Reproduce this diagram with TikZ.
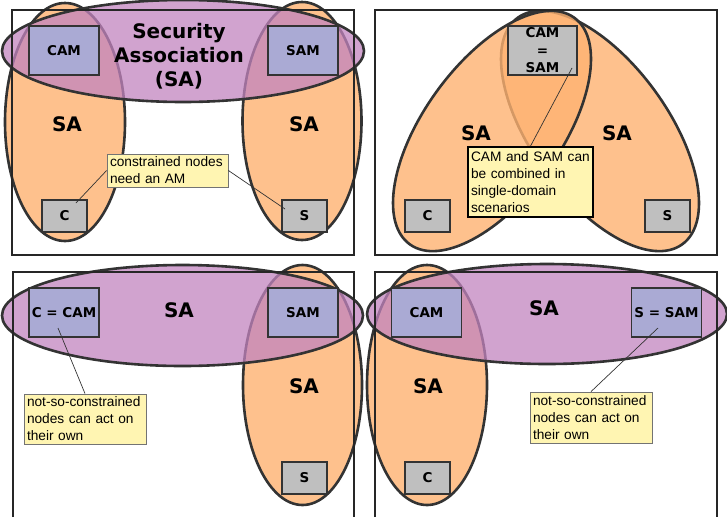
\documentclass[tikz,border=0pt]{standalone}
\usepackage{fontspec}
\setmainfont{DejaVu Sans}
\newfontfamily\notefont{Liberation Sans}
\usetikzlibrary{shapes,positioning,calc}

\definecolor{saorange}{RGB}{254,178,113}
\definecolor{sapurple}{RGB}{194,132,191}
\definecolor{amblue}{RGB}{170,170,212}
\definecolor{devgray}{RGB}{191,191,191}
\definecolor{notebg}{RGB}{255,245,178}
\definecolor{outline}{RGB}{51,51,51}

\begin{document}
\begin{tikzpicture}[
    x=1pt, y=-1pt,
    saring/.style={ellipse, draw=outline, line width=2.6pt, inner sep=0pt},
    orangesa/.style={saring, fill=saorange, fill opacity=0.8},
    purplesa/.style={saring, fill=sapurple, fill opacity=0.75},
    frame/.style={draw=black!85, line width=1.1pt},
    amnode/.style={rectangle, draw=outline, line width=1.5pt, fill=amblue, minimum width=70pt, minimum height=49pt, inner sep=0pt, align=center, font=\bfseries\fontsize{13.5}{17.5}\selectfont},
    devnode/.style={amnode, fill=devgray, minimum width=45pt, minimum height=32pt},
    salabel/.style={align=center, font=\bfseries\fontsize{20}{24}\selectfont},
    remark/.style={rectangle, draw=black!55, line width=0.8pt, fill=notebg, align=left, inner sep=3pt, font=\notefont\fontsize{13.7}{17}\selectfont},
    leader/.style={draw=outline, line width=0.7pt}
]
    \useasboundingbox (0,0) rectangle (727,517);

    % top left
    \node[orangesa, minimum width=120pt, minimum height=238pt] (saC1) at (65,122) {};
    \node[orangesa, minimum width=119pt, minimum height=238pt] (saS1) at (302,121) {};
    \node[purplesa, minimum width=362pt, minimum height=102pt] (saAM1) at (183,51) {};
    \draw[frame] (12,10) rectangle (354,255);
    \node[amnode] (cam1) at (64,50.5) {CAM};
    \node[amnode] (sam1) at (303,50.5) {SAM};
    \node[devnode] (c1) at (64.5,216) {C};
    \node[devnode] (s1) at (304.5,216) {S};
    \node[salabel] (lbl1) at (179,56) {Security\\Association\\(SA)};
    \node[salabel] (lblC1) at (67,124) {SA};
    \node[salabel] (lblS1) at (304,124) {SA};
    \node[remark, text width=115pt, minimum height=33pt] (note1) at (167.5,170.5) {constrained nodes\\need an AM};
    \coordinate (c1pin) at (76,203);
    \coordinate (s1pin) at (285,209);
    \draw[leader] (note1.west) -- (c1pin);
    \draw[leader] (note1.east) -- (s1pin);

    % top right
    \node[orangesa, minimum width=280pt, minimum height=136pt, rotate=-54] (saS2) at (600,131) {};
    \node[orangesa, minimum width=280pt, minimum height=136pt, rotate=54] (saC2) at (492,131) {};
    \draw[frame] (375,10) rectangle (717,255);
    \node[amnode, fill=devgray, minimum width=69pt] (camsam2) at (542.5,50.5) {CAM\\=\\SAM};
    \node[devnode] (c2) at (427.5,216) {C};
    \node[devnode] (s2) at (667.5,216) {S};
    \node[salabel] (lblC2) at (476,133) {SA};
    \node[salabel] (lblS2) at (617,133) {SA};
    \node[remark, draw=black, line width=1.8pt, text width=119pt, minimum height=70pt] (note2) at (530.5,182) {CAM and SAM can\\be combined in\\single-domain\\scenarios};
    \coordinate (camsam2pin) at (572,68);
    \draw[leader] (note2.north) -- (camsam2pin);

    % bottom left
    \node[orangesa, minimum width=119pt, minimum height=240pt] (saS3) at (302.5,385) {};
    \node[purplesa, minimum width=361pt, minimum height=101pt] (saAM3) at (182.5,315.5) {};
    \draw[frame] (13,517) |- (354,272) -- (354,517);
    \node[amnode] (cam3) at (64,312.5) {C = CAM};
    \node[amnode] (sam3) at (303,312.5) {SAM};
    \node[devnode] (s3) at (304.5,478) {S};
    \node[salabel] (lblAM3) at (179,310) {SA};
    \node[salabel] (lblS3) at (304,386) {SA};
    \node[remark, text width=116pt, minimum height=50pt] (note3) at (85,419) {not-so-constrained\\nodes can act on\\their own};
    \coordinate (cam3pin) at (58,328);
    \draw[leader] (note3.north) -- (cam3pin);

    % bottom right
    \node[orangesa, minimum width=120pt, minimum height=240pt] (saC4) at (427,385) {};
    \node[purplesa, minimum width=360pt, minimum height=100pt] (saAM4) at (547,314) {};
    \draw[frame] (375,517) |- (717,272) -- (717,517);
    \node[amnode] (cam4) at (426.5,312.5) {CAM};
    \node[amnode] (sam4) at (666.5,312.5) {S = SAM};
    \node[devnode] (c4) at (427.5,478) {C};
    \node[salabel] (lblAM4) at (544,308) {SA};
    \node[salabel] (lblC4) at (428,386) {SA};
    \node[remark, text width=116pt, minimum height=51pt] (note4) at (591,417.5) {not-so-constrained\\nodes can act on\\their own};
    \coordinate (sam4pin) at (658,328);
    \draw[leader] (note4.north) -- (sam4pin);
\end{tikzpicture}
\end{document}
